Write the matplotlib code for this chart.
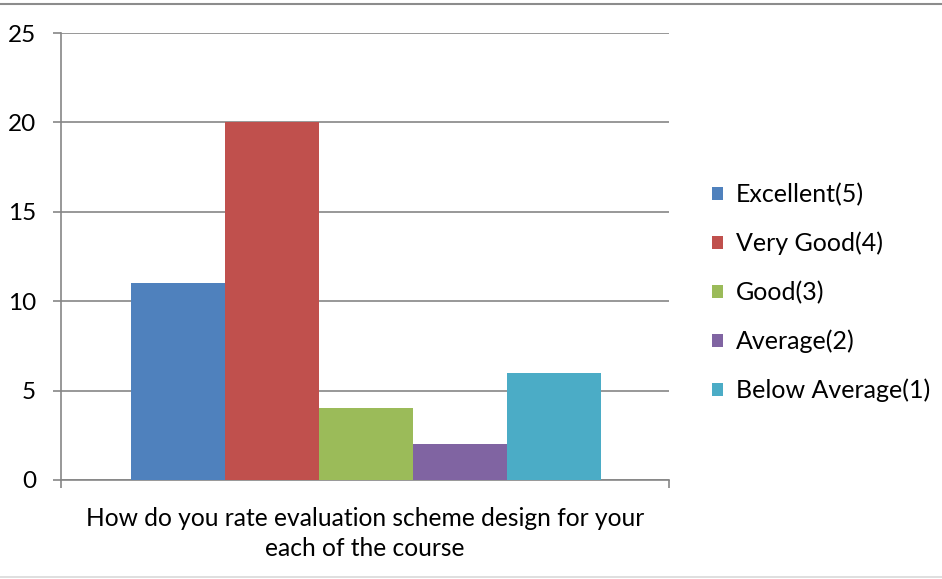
import matplotlib
matplotlib.use("Agg")
import matplotlib.pyplot as plt
from matplotlib.lines import Line2D
from matplotlib.patches import Patch

categories = ["How do you rate evaluation scheme design for your\neach of the course"]
series_names = ["Excellent(5)", "Very Good(4)", "Good(3)", "Average(2)", "Below Average(1)"]
series_values = [11, 20, 4, 2, 6]
colors = ["#4F81BD", "#C0504D", "#9BBB59", "#8064A2", "#4BACC6"]
y_ticks = [0, 5, 10, 15, 20, 25]

plt.rcParams['font.family'] = ['Lato', 'DejaVu Sans']

W, H = 942, 579
fig = plt.figure(figsize=(W / 100, H / 100), dpi=100)
ax = fig.add_axes([61 / W, 1 - 480 / H, (669 - 61) / W, (480 - 33) / H])

grid_c = "#868686"
n = len(series_values)
group = 470 / 608
bw = group / n
for i, (name, v, c) in enumerate(zip(series_names, series_values, colors)):
    x = -group / 2 + bw * (i + 0.5) + 1 / 608
    ax.bar(x, v, width=bw, color=c, label=name, zorder=3)

ax.set_xlim(-0.5, 0.5)
ax.set_ylim(0, 25)
ax.set_yticks(y_ticks)
ax.set_yticklabels([str(t) for t in y_ticks], fontsize=17.5)
ax.yaxis.grid(True, color=grid_c, linewidth=1.2, zorder=0)
ax.tick_params(axis='y', length=5.8, color=grid_c, width=1.2, pad=12)

ax.set_xticks([-0.5, 0.5])
ax.set_xticklabels(["", ""])
ax.set_xticks([0], minor=True)
ax.set_xticklabels(categories, minor=True, fontsize=17.7, linespacing=1.35)
ax.tick_params(axis='x', which='major', length=5.8, color=grid_c, width=1.2)
ax.tick_params(axis='x', which='minor', length=0, pad=19.5)

for s in ["top", "right"]:
    ax.spines[s].set_visible(False)
for s in ["left", "bottom"]:
    ax.spines[s].set_color(grid_c)
    ax.spines[s].set_linewidth(1.2)

handles = [Patch(facecolor=c, label=nm) for c, nm in zip(colors, series_names)]
fig.legend(handles=handles, loc="upper left", bbox_to_anchor=(702 / W, 1 - 173 / H),
           frameon=False, fontsize=18, handlelength=0.45, handleheight=0.45,
           handletextpad=0.5, labelspacing=1.02, borderaxespad=0)

fig.add_artist(Line2D([0, 1], [1 - 3.5 / H, 1 - 3.5 / H], color="#8c8c8c", linewidth=1.5))
fig.add_artist(Line2D([0, 1], [1 - 577 / H, 1 - 577 / H], color="#d9d9d9", linewidth=1.2))

fig.savefig("out.png", dpi=100)
